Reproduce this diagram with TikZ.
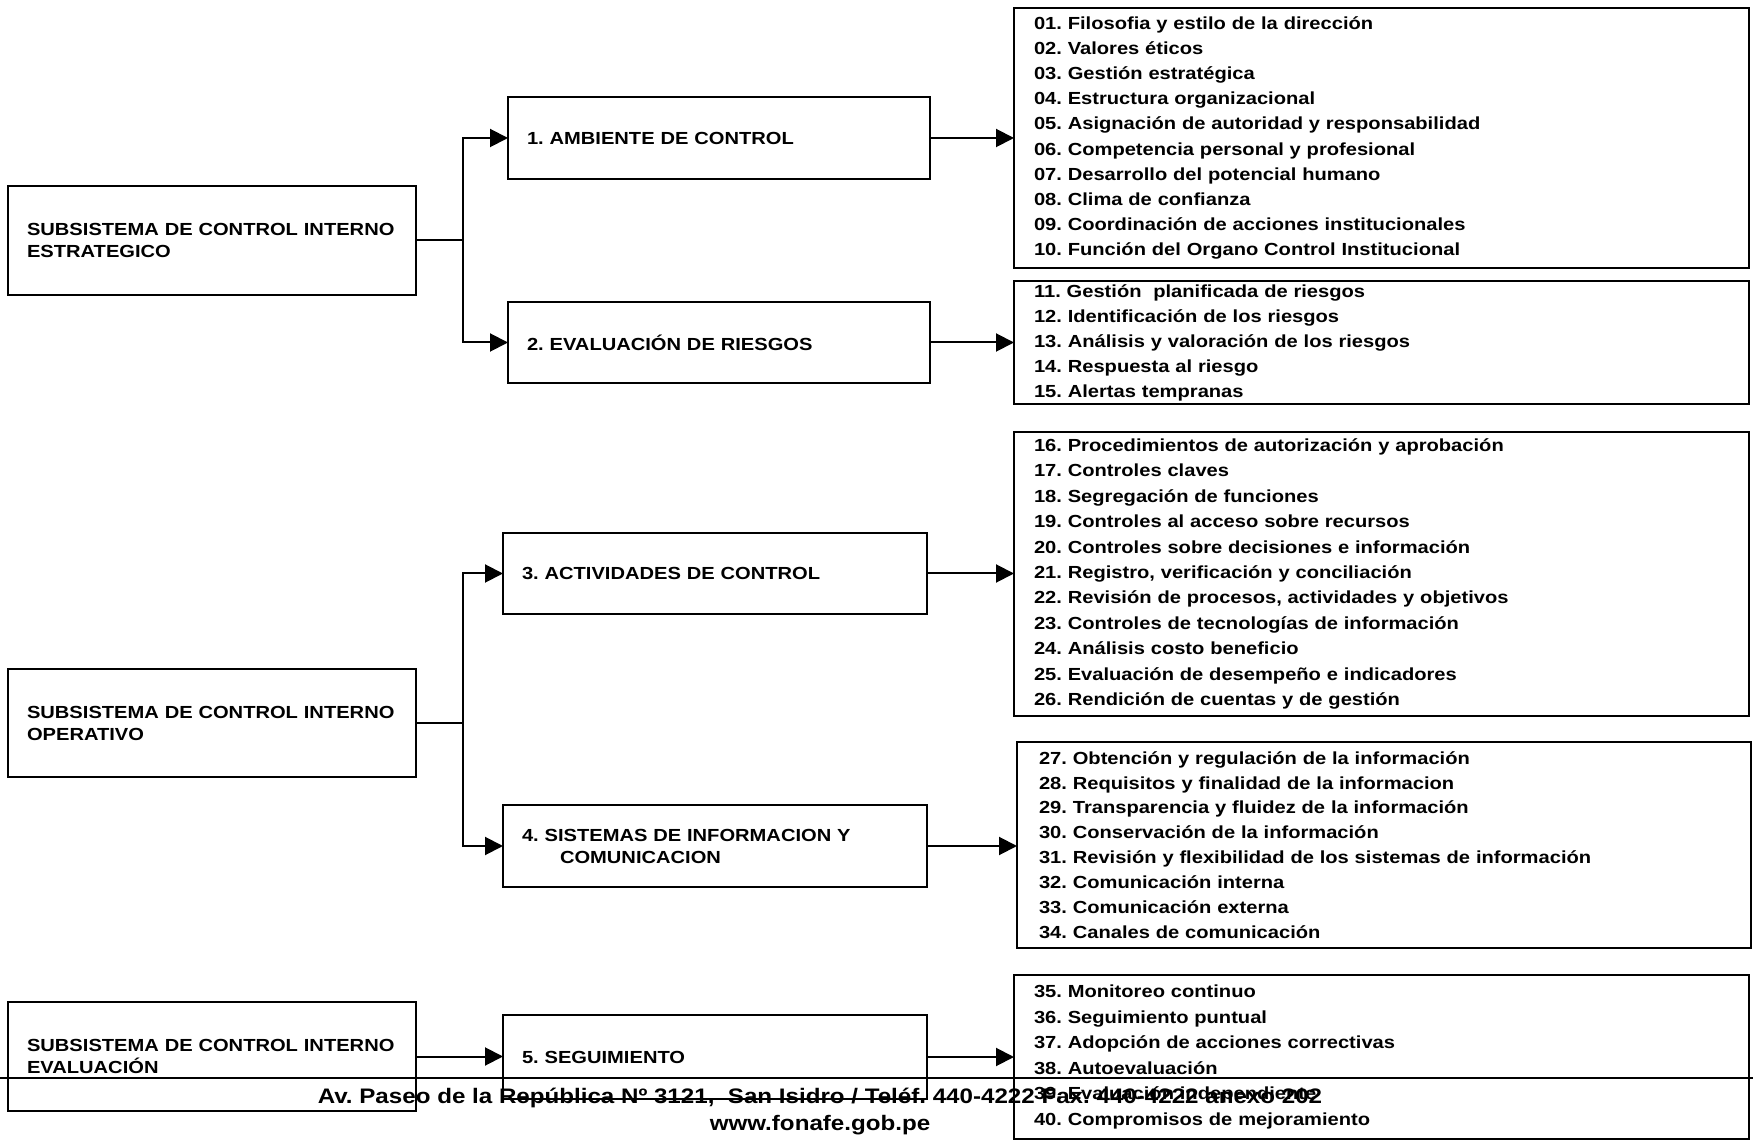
\documentclass[tikz,border=0pt]{standalone}
\usepackage{fontspec}
\setmainfont{Liberation Sans}
\newfontfamily\lf{Liberation Sans}[FakeStretch=1.15]
\usetikzlibrary{arrows.meta}
\frenchspacing
\begin{document}
\frenchspacing
\begin{tikzpicture}[x=0.5pt,y=-0.5pt,
  every node/.style={inner sep=0pt, outer sep=0pt},
  lbl/.style={font=\lf\bfseries\fontsize{8.75}{11}\selectfont},
  sub/.style={lbl, draw, line width=1pt, minimum width=204pt, minimum height=54.5pt, text width=185pt, inner xsep=9.5pt, align=left},
  comp/.style={lbl, draw, line width=1pt, minimum width=211pt, text width=192pt, inner xsep=9.5pt, align=left},
  lst/.style={draw, line width=1pt, minimum width=367.5pt, text width=347.5pt, inner xsep=10pt, align=left},
  lfont/.style={font=\lf\bfseries\fontsize{8.75}{#1}\selectfont},
  foot/.style={font=\lf\bfseries\fontsize{10.5}{12}\selectfont},
  conn/.style={line width=1pt},
  arr/.style={line width=1pt, -{Triangle[length=9pt,width=9pt]}}]
\path[use as bounding box, fill=white] (0,0) rectangle (1753,1144);

% left subsystem boxes
\node[sub, minimum height=54.5pt] (S1) at (212,240.5) {SUBSISTEMA DE CONTROL INTERNO\\ESTRATEGICO};
\node[sub, minimum height=54pt] (S2) at (212,723) {SUBSISTEMA DE CONTROL INTERNO\\OPERATIVO};
\node[sub, minimum height=54.5pt] (S3) at (212,1056.5) {SUBSISTEMA DE CONTROL INTERNO\\EVALUACIÓN};

% component boxes
\node[comp, minimum height=41pt] (A1) at (719,138) {1. AMBIENTE DE CONTROL};
\node[comp, minimum height=40.5pt] (A2) at (719,342.5) {2. EVALUACIÓN DE RIESGOS};
\node[comp, minimum width=212pt, text width=193pt, minimum height=40.5pt] (A3) at (715,573.5) {3. ACTIVIDADES DE CONTROL};
\node[comp, minimum width=212pt, text width=193pt, minimum height=41pt] (A4) at (715,846) {4. SISTEMAS DE INFORMACION Y\\\hspace*{19pt}COMUNICACION};
\node[comp, minimum width=212pt, text width=193pt, minimum height=42pt] (A5) at (715,1057) {5. SEGUIMIENTO};

% list boxes
\node[lst, lfont=12.6pt, minimum height=130pt] (L1) at (1381.5,138) {%
01. Filosofia y estilo de la dirección\\
02. Valores éticos\\
03. Gestión estratégica\\
04. Estructura organizacional\\
05. Asignación de autoridad y responsabilidad\\
06. Competencia personal y profesional\\
07. Desarrollo del potencial humano\\
08. Clima de confianza\\
09. Coordinación de acciones institucionales\\
10. Función del Organo Control Institucional};
\node[lst, lfont=12.5pt, minimum height=61.5pt] (L2) at (1381.5,342.5) {%
11. Gestión~ planificada de riesgos\\
12. Identificación de los riesgos\\
13. Análisis y valoración de los riesgos\\
14. Respuesta al riesgo\\
15. Alertas tempranas};
\node[lst, lfont=12.7pt, minimum height=142pt] (L3) at (1381.5,574) {%
16. Procedimientos de autorización y aprobación\\
17. Controles claves\\
18. Segregación de funciones\\
19. Controles al acceso sobre recursos\\
20. Controles sobre decisiones e información\\
21. Registro, verificación y conciliación\\
22. Revisión de procesos, actividades y objetivos\\
23. Controles de tecnologías de información\\
24. Análisis costo beneficio\\
25. Evaluación de desempeño e indicadores\\
26. Rendición de cuentas y de gestión};
\node[lst, lfont=12.45pt, minimum width=367pt, text width=345pt, inner xsep=11pt, minimum height=103pt] (L4) at (1384,845) {%
27. Obtención y regulación de la información\\
28. Requisitos y finalidad de la informacion\\
29. Transparencia y fluidez de la información\\
30. Conservación de la información\\
31. Revisión y flexibilidad de los sistemas de información\\
32. Comunicación interna\\
33. Comunicación externa\\
34. Canales de comunicación};
\node[lst, lfont=12.75pt, minimum height=82pt] (L5) at (1381.5,1057) {%
35. Monitoreo continuo\\
36. Seguimiento puntual\\
37. Adopción de acciones correctivas\\
38. Autoevaluación\\
39. Evaluación independiente\\
40. Compromisos de mejoramiento};

% connectors
\coordinate (j1) at (463,240.5);
\coordinate (j2) at (463,723);
\draw[conn] (S1.east) -- (j1);
\draw[arr] (j1) |- (A1.west);
\draw[arr] (j1) |- (A2.west);
\draw[conn] (S2.east) -- (j2);
\draw[arr] (j2) |- (A3.west);
\draw[arr] (j2) |- (A4.west);
\draw[arr] (S3.east) -- (S3.east -| A5.west);
\draw[arr] (A1.east) -- (A1.east -| L1.west);
\draw[arr] (A2.east) -- (A2.east -| L2.west);
\draw[arr] (A3.east) -- (A3.east -| L3.west);
\draw[arr] (A4.east) -- (A4.east -| L4.west);
\draw[arr] (A5.east) -- (A5.east -| L5.west);

% footer
\coordinate (fl) at (0,1078);
\coordinate (fr) at (1753,1078);
\draw[conn] (fl) -- (fr);
\node[anchor=base, foot] (ftext) at (820,1103) {Av. Paseo de la República Nº 3121,~ San Isidro / Teléf. 440-4222 Fax. 440-4222 anexo 202};
\node[anchor=base, foot] (web) at (820,1130) {www.fonafe.gob.pe};
\end{tikzpicture}
\end{document}
